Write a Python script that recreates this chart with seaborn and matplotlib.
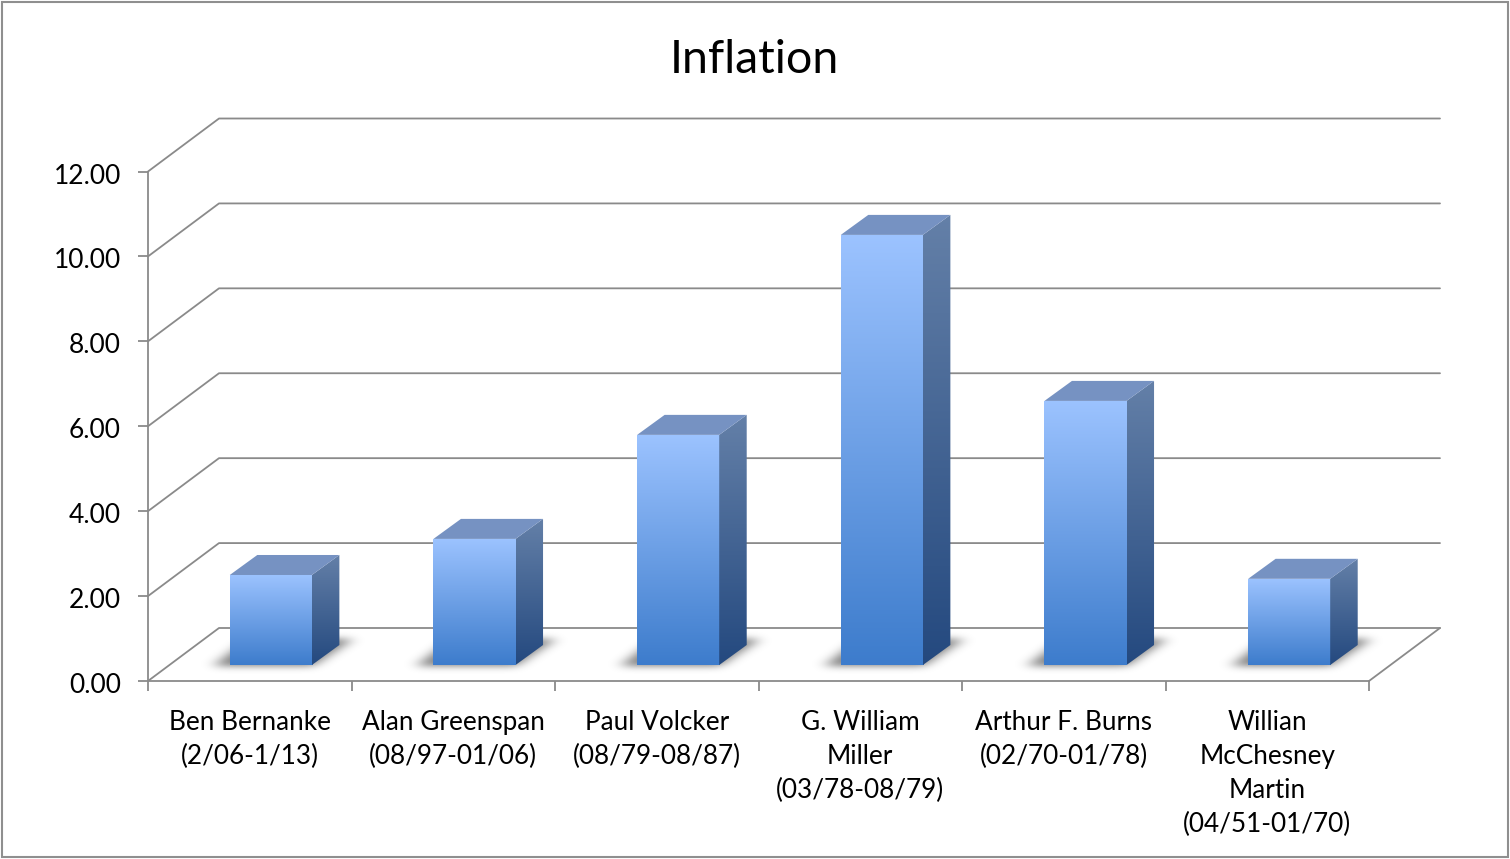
import numpy as np
import pandas as pd
import seaborn as sns
import matplotlib
matplotlib.use('Agg')
import matplotlib.pyplot as plt
from matplotlib.colors import LinearSegmentedColormap
from matplotlib.patches import Polygon, Rectangle
from matplotlib.transforms import ScaledTranslation

# values
chairs = ['Ben Bernanke\n(2/06-1/13)', 'Alan Greenspan\n(08/97-01/06)', 'Paul Volcker\n(08/79-08/87)',
          'G. William\nMiller\n(03/78-08/79)', 'Arthur F. Burns\n(02/70-01/78)',
          'Willian\nMcChesney\nMartin\n(04/51-01/70)']
inflation = [2.12, 2.97, 5.42, 10.13, 6.22, 2.03]
y_ticks = [0, 2, 4, 6, 8, 10, 12]
y_labels = ['0.00', '2.00', '4.00', '6.00', '8.00', '10.00', '12.00']

W, H = 1510, 859
GRAY = '#8a8a8a'

sns.set_theme(style='white')
plt.rcParams['font.family'] = ['Lato', 'DejaVu Sans']

fig = plt.figure(figsize=(W / 100, H / 100), dpi=100)

def px_rect(left, top, right, bottom):
    return [left / W, 1 - bottom / H, (right - left) / W, (bottom - top) / H]

# main axes hold the frame, back wall lines and labels
ax = fig.add_axes(px_rect(148, 171.5, 1369, 681))
ax.set_xlim(-0.5, 5.5)
ax.set_ylim(0, 12)
ax.patch.set_visible(False)
sns.despine(ax=ax)
for s in ['left', 'bottom']:
    ax.spines[s].set_color(GRAY)
    ax.spines[s].set_linewidth(1.3)

ax.set_yticks(y_ticks, y_labels, fontsize=19, color='black')
ax.set_xticks(np.arange(-0.5, 6, 1), [''] * 7)
ax.set_xticks(np.arange(6), chairs, minor=True, fontsize=18.8, color='black', linespacing=1.44)
ax.tick_params(axis='both', which='major', direction='out', length=7.5, width=1.3, color=GRAY, left=True, bottom=True)
ax.tick_params(axis='y', which='major', pad=12)
ax.tick_params(axis='x', which='minor', length=0, pad=21)
for lab in ax.get_yticklabels():
    lab.set_transform(lab.get_transform() + ScaledTranslation(0, -2 / 100, fig.dpi_scale_trans))

# depth of the wall, 71px right and 53px up
wall_dx = 71 / (1221 / 6)
wall_dy = 53 / (509.5 / 12)
for t in y_ticks:
    ax.plot([-0.5, -0.5 + wall_dx, 5.5 + wall_dx], [t, t + wall_dy, t + wall_dy],
            color=GRAY, lw=1.3, clip_on=False, zorder=1)
ax.plot([5.5, 5.5 + wall_dx], [0, wall_dy], color=GRAY, lw=1.3, clip_on=False, zorder=1)

# bars sit in the middle of the floor so they get their own shifted axes,
# the axes run 1 unit below zero to leave room for the shadows
unit_px = 509.5 / 12
ax_bars = fig.add_axes(px_rect(148 + 21, 171.5 - 16, 1369 + 22, 681 - 16 + unit_px))
df = pd.DataFrame({'chair': chairs, 'inflation': inflation})
sns.barplot(data=df, x='chair', y='inflation', width=0.403, color='#5b93dd', saturation=1, ax=ax_bars)
ax_bars.axis('off')
ax_bars.patch.set_visible(False)

px_x = 6 / 1222
px_y = 12 / 509.5
bar_dx = 27.5 * px_x
bar_dy = 20 * px_y

front_cmap = LinearSegmentedColormap.from_list('front', ['#3d7ccc', '#9cc3ff'])
side_cmap = LinearSegmentedColormap.from_list('side', ['#24497f', '#6480a8'])
grad = np.linspace(0, 1, 256).reshape(-1, 1)

# blurred parallelogram for the floor shadow, in pixels around the bar
bar_px = 82
sx, sy = np.meshgrid(np.arange(-60, bar_px + 100), np.arange(-22, 46))
inside = (sy >= -1) & (sy <= 25) & (sx >= -15 + sy * 1.3) & (sx <= bar_px + 2 + sy * 1.5)

def gauss(sigma):
    k = np.exp(-0.5 * (np.arange(-24, 25) / sigma) ** 2)
    return k / k.sum()

blur = np.apply_along_axis(lambda r: np.convolve(r, gauss(7.0), mode='same'), 1, inside.astype(float))
blur = np.apply_along_axis(lambda c: np.convolve(c, gauss(3.5), mode='same'), 0, blur)
shadow_rgba = np.zeros(blur.shape + (4,))
shadow_rgba[..., 3] = blur * 0.52

for bar in list(ax_bars.patches):
    x0 = bar.get_x()
    x1 = x0 + bar.get_width()
    top = bar.get_height()
    bar.set_visible(False)

    # soft shadow on the floor
    ax_bars.imshow(shadow_rgba, origin='lower', aspect='auto', interpolation='bilinear', zorder=1,
                   extent=[x0 - 60 * px_x, x0 + (bar_px + 100) * px_x, -22 * px_y, 46 * px_y])

    # front face
    im = ax_bars.imshow(grad, extent=[x0, x1, 0, top], origin='lower', cmap=front_cmap, aspect='auto', zorder=3)
    im.set_clip_path(Rectangle((x0, 0), x1 - x0, top, transform=ax_bars.transData))

    # side face
    side = Polygon([[x1, 0], [x1 + bar_dx, bar_dy], [x1 + bar_dx, top + bar_dy], [x1, top]],
                   closed=True, fc='none', ec='none', transform=ax_bars.transData)
    ax_bars.add_patch(side)
    side.set_clip_on(False)
    im2 = ax_bars.imshow(grad, extent=[x1, x1 + bar_dx, 0, top + bar_dy], origin='lower', cmap=side_cmap,
                         aspect='auto', zorder=3)
    im2.set_clip_path(side)

    # top face
    ax_bars.add_patch(Polygon([[x0, top], [x1, top], [x1 + bar_dx, top + bar_dy], [x0 + bar_dx, top + bar_dy]],
                              closed=True, fc='#7692c2', ec='none', clip_on=False, zorder=3))

ax_bars.set_xlim(-0.5, 5.5)
ax_bars.set_ylim(-1, 12)

fig.text(754 / W, 1 - 60 / H, 'Inflation', ha='center', va='center', fontsize=33.5, color='black')

# chart border
fig.add_artist(Rectangle((2 / W, 2 / H), (W - 4) / W, (H - 4) / H, transform=fig.transFigure,
                         fc='none', ec='#8f8f8f', lw=1.5))

fig.savefig('out.png', dpi=100, facecolor='white')
